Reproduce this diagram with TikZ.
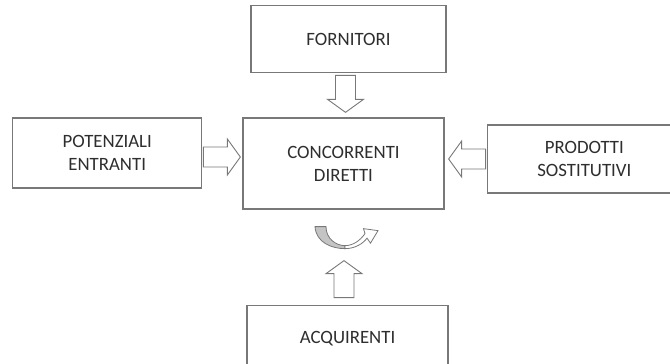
\documentclass[tikz,border=0pt]{standalone}
\usepackage{fontspec}
\setmainfont{Carlito}
\usepackage{tikz}
\usetikzlibrary{positioning, calc}
\definecolor{boxline}{HTML}{787878}
\definecolor{boxtext}{HTML}{2E2E2E}
\definecolor{bandgray}{HTML}{C4C4C4}
\tikzset{force/.style={draw=boxline, line width=1.3pt, fill=white, text=boxtext, align=center,
    font=\fontsize{18.8}{23}\selectfont, inner sep=0pt}}
\tikzset{fatarrow/.pic={
    \draw[draw=boxline, line width=0.9pt, fill=white, line join=miter]
      (0,-10) -- (24,-10) -- (24,-18) -- (37,0) -- (24,18) -- (24,10) -- (0,10) -- cycle;
  }}

\begin{document}
\begin{tikzpicture}[x=1pt, y=1pt]
      \useasboundingbox (0,0) rectangle (670,364);

      \node[force, minimum width=201pt, minimum height=91pt] (conc) at (343.5,200.5) {CONCORRENTI\\DIRETTI};

      \node[force, minimum width=195pt, minimum height=67pt] (forn) [above=44pt of conc, xshift=5pt] {FORNITORI};
      \node[force, minimum width=189pt, minimum height=70pt] (pot) [left=40pt of conc, yshift=10.5pt] {POTENZIALI\\ENTRANTI};
      \node[force, minimum width=194pt, minimum height=68pt] (prod) [right=42pt of conc, yshift=4.5pt] {PRODOTTI\\SOSTITUTIVI};
      \node[force, minimum width=201pt, minimum height=67pt] (acq) [below=95pt of conc, xshift=4pt] {ACQUIRENTI};

      % block arrows towards the centre
      \pic[rotate=-90] at ($(forn.south)+(-3,-2)$) {fatarrow};
      \pic at ($(pot.east)+(1,-4)$) {fatarrow};
      \pic[rotate=180] at ($(prod.west)+(-1,0)$) {fatarrow};
      \pic[rotate=90] at ($(acq.north)+(-3.5,7)$) {fatarrow};

      % curved arrow under the centre box
      \coordinate (turn) at ($(conc.south)+(1.5,-39)$);
      \begin{scope}[shift={(turn)}]
        \draw[draw=boxline, line width=0.8pt, fill=bandgray]
          (-30,22) .. controls (-29,6) and (-13,0) .. (0,0) -- (0,3)
          .. controls (-9,3) and (-19,10) .. (-19,22) -- cycle;
        \draw[draw=boxline, line width=0.8pt, fill=white, line join=miter]
          (0,0) .. controls (10,0) and (18,5) .. (22,10.5) -- (25.5,5.5) -- (33,18)
          -- (18.5,20) -- (20,15) .. controls (15,8) and (8,3) .. (0,3) -- cycle;
      \end{scope}

    \end{tikzpicture}
\end{document}
